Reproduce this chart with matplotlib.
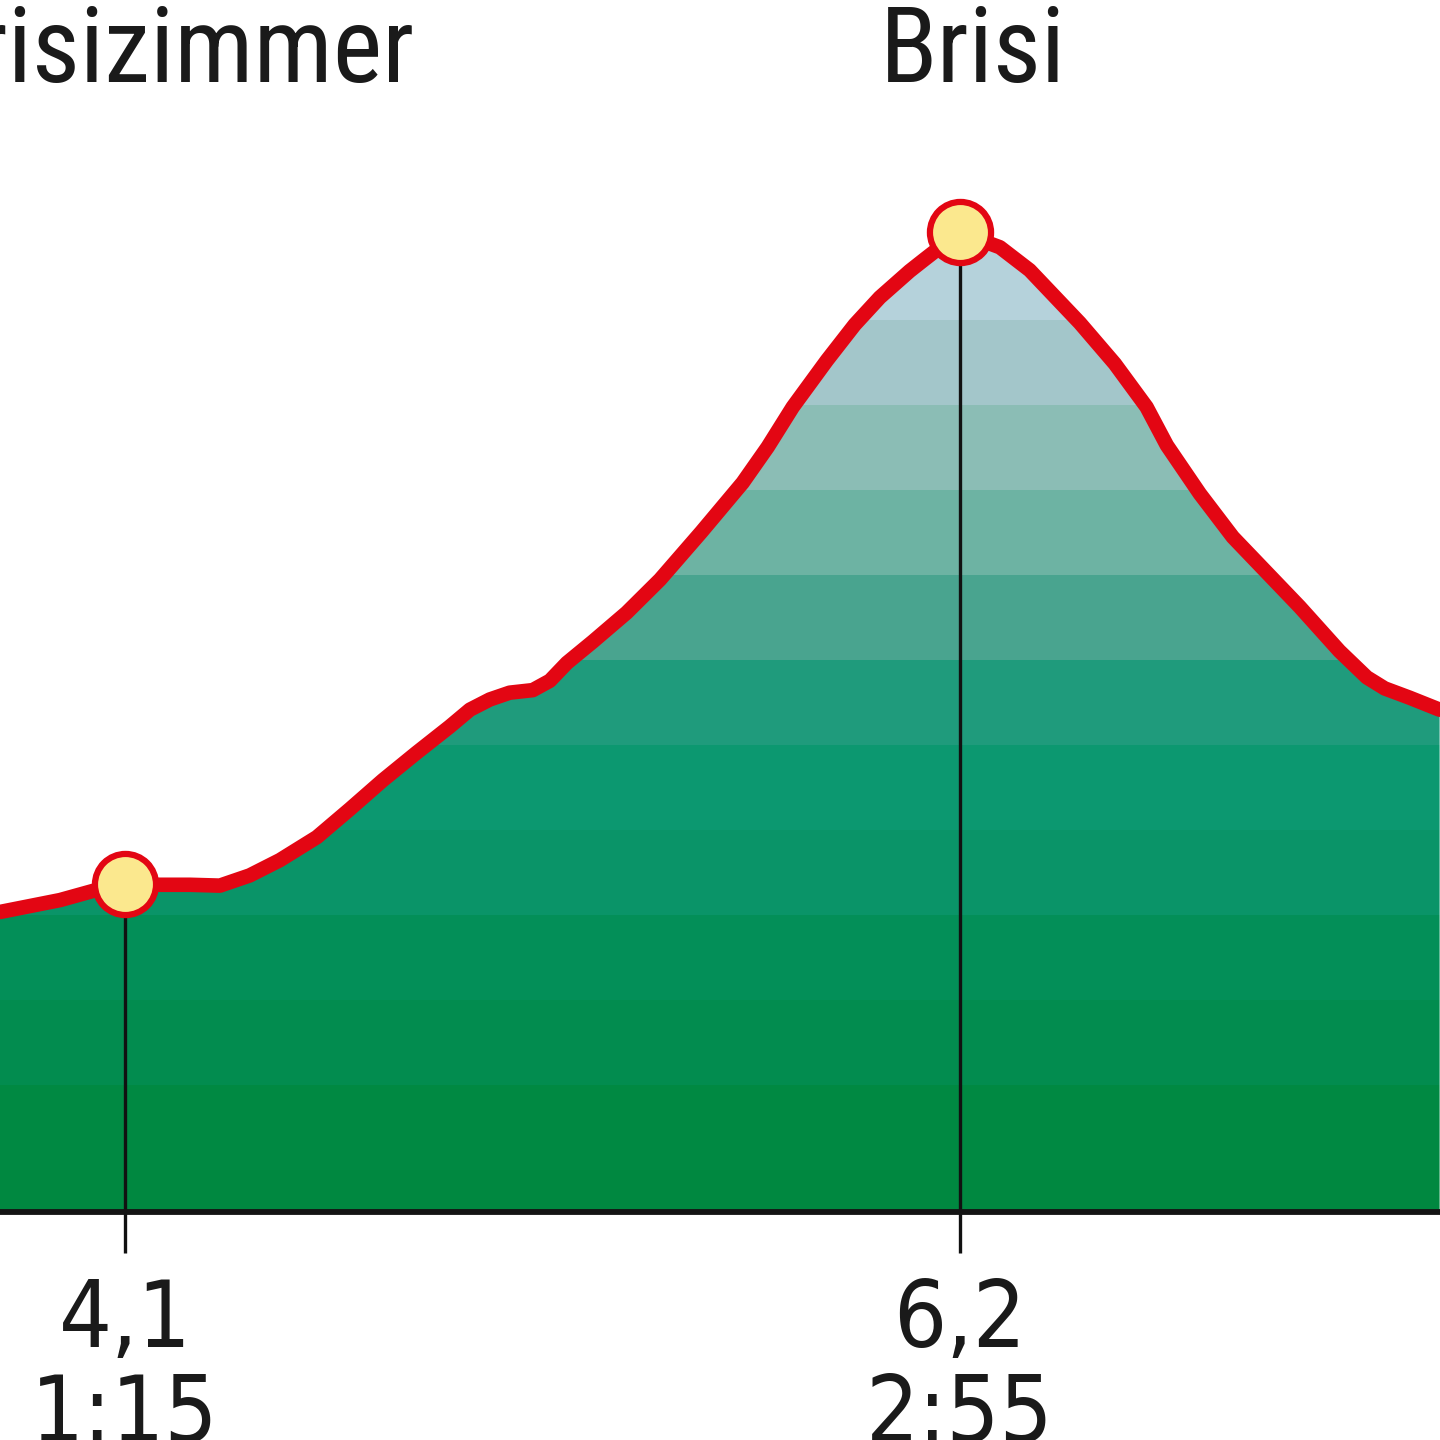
import matplotlib
matplotlib.use("Agg")
import matplotlib.pyplot as plt
from matplotlib import font_manager
from matplotlib.patches import Polygon
import numpy as np

# profile: distance (km) and elevation (m)
dist_km = [3.786, 3.937, 4.037, 4.100, 4.188, 4.264, 4.339, 4.414, 4.490, 4.583,
           4.666, 4.749, 4.833, 4.917, 4.968, 5.018, 5.068, 5.126, 5.169, 5.212,
           5.277, 5.362, 5.446, 5.550, 5.654, 5.717, 5.780, 5.866, 5.936, 5.999,
           6.074, 6.112, 6.200, 6.238, 6.301, 6.376, 6.502, 6.590, 6.670, 6.721,
           6.804, 6.887, 6.971, 7.055, 7.155, 7.224, 7.269, 7.332, 7.407]
elev_m = [1503, 1517, 1530, 1536, 1535, 1535, 1534, 1546, 1564, 1591,
          1624, 1658, 1690, 1721, 1741, 1753, 1761, 1764, 1775, 1796,
          1821, 1855, 1894, 1950, 2008, 2050, 2097, 2152, 2194, 2226,
          2257, 2271, 2303, 2296, 2285, 2258, 2196, 2148, 2097, 2052,
          1995, 1944, 1903, 1862, 1810, 1779, 1766, 1755, 1741]

# waypoints
stop_names = ["Brisizimmer", "Brisi"]
stop_km = [4.1, 6.2]
stop_dist_labels = ["4,1", "6,2"]
stop_time_labels = ["1:15", "2:55"]
stop_elev = [1536, 2303]

# height bands of the fill (100 m steps) and their colours
band_edges = [1150, 1200, 1300, 1400, 1500, 1600, 1700, 1800, 1900, 2000,
              2100, 2200, 2300, 2400]
band_colors = ["#008840", "#008942", "#028c4f", "#038f58", "#0a9468", "#0c9870",
               "#1f9b7c", "#49a48f", "#6db3a3", "#8bbdb5", "#a3c6ca", "#b5d2db",
               "#bcd6de"]
base_elev = 1150


def pick_narrow_font():
    fonts = font_manager.fontManager.ttflist
    names = {f.name for f in fonts}
    for fam in ["Liberation Sans Narrow", "Roboto Condensed", "Open Sans Condensed",
                "Noto Sans Condensed"]:
        if fam in names:
            return dict(family=fam)
    for fam in ["Noto Sans", "Open Sans", "Roboto"]:
        for f in fonts:
            if f.name == fam and f.stretch in ("condensed", "semi-condensed") \
                    and f.style == "normal" and f.weight in (400, 500, "normal", "regular", "medium"):
                return dict(family=fam, stretch=f.stretch)
    return dict(family="DejaVu Sans", stretch="condensed")


narrow = pick_narrow_font()

x = np.array(dist_km)
y = np.array(elev_m, dtype=float)

fig = plt.figure(figsize=(14.4, 14.4), dpi=100)
ax = fig.add_axes([0, 0, 1, 1])
ax.set_xlim(3.786, 7.408)
ax.set_ylim(881.8, 2575.9)
ax.axis("off")

# area under the profile, used to clip the coloured height bands
verts = [(x[0], base_elev)] + list(zip(x, y)) + [(x[-1], base_elev)]
area = Polygon(verts, closed=True, facecolor="none", edgecolor="none")
ax.add_patch(area)
for lo, hi, col in zip(band_edges[:-1], band_edges[1:], band_colors):
    band = ax.axhspan(lo, hi, color=col, lw=0, zorder=1)
    band.set_clip_path(area)

# base line and ticks
ax.axhline(base_elev, color="#141414", lw=4.2, zorder=3)
ax.vlines(stop_km, 1101.8, stop_elev, color="#111111", lw=2.4, zorder=2)

# the route
ax.plot(x, y, color="#e30613", lw=10.5, solid_joinstyle="round",
        solid_capstyle="round", zorder=4)
ax.plot(stop_km, stop_elev, "o", ms=44, mfc="#fbe88e", mec="#e30613",
        mew=4.5, zorder=5)

# labels
trans = ax.get_xaxis_transform()
t_left = ax.text(4.83, 0.9431, stop_names[0], transform=trans, ha="right",
                 va="baseline", fontsize=70, color="#1a1a1a", **narrow)
t_peak = ax.text(6.232, 0.9431, stop_names[1], transform=trans, ha="center",
                 va="baseline", fontsize=70, color="#1a1a1a", **narrow)
# size the names so that "Brisi" is as wide as in the picture
fig.canvas.draw()
w = t_peak.get_window_extent().width
size = min(82, 70 * 186 / w)
t_left.set_fontsize(size)
t_peak.set_fontsize(size)

for km, d, t in zip(stop_km, stop_dist_labels, stop_time_labels):
    ax.text(km, 0.0646, d, transform=trans, ha="center", va="baseline",
            fontsize=67, color="#1a1a1a", family="DejaVu Sans", stretch="condensed")
    ax.text(km, -0.0014, t, transform=trans, ha="center", va="baseline",
            fontsize=67, color="#1a1a1a", family="DejaVu Sans", stretch="condensed")

fig.savefig("out.png", dpi=100, facecolor="white")
